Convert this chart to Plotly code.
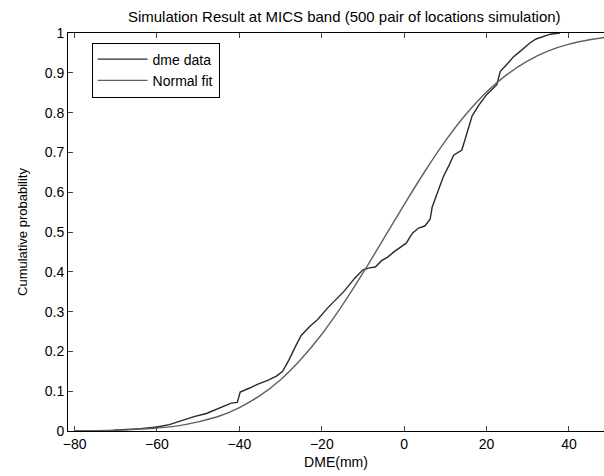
import plotly.graph_objects as go

dme_x = [-70.5, -67, -64, -60, -57, -54, -51, -48, -46, -44, -42, -40.5, -39.8, -37.5,
         -35.5, -33, -31, -29.5, -28, -26.5, -25, -23, -21, -18.5, -16.5, -14.5, -12,
         -10, -8.5, -7, -5.5, -4, -2.5, -1, 0.5, 2, 3.5, 5, 6.3, 6.8, 8.3, 9.5, 11, 12,
         14, 15.2, 16.5, 18, 20, 22.5, 23.3, 25, 26.5, 28.5, 30.5, 32, 33.5, 35.5, 37.8]
dme_y = [0.002, 0.004, 0.006, 0.01, 0.016, 0.026, 0.036, 0.044, 0.053, 0.062, 0.07, 0.072,
         0.098, 0.108, 0.118, 0.128, 0.138, 0.15, 0.178, 0.21, 0.24, 0.262, 0.28, 0.31,
         0.33, 0.352, 0.384, 0.405, 0.41, 0.412, 0.428, 0.437, 0.45, 0.46, 0.472, 0.497,
         0.51, 0.515, 0.532, 0.563, 0.605, 0.639, 0.67, 0.693, 0.706, 0.745, 0.792, 0.817,
         0.845, 0.87, 0.903, 0.922, 0.94, 0.957, 0.975, 0.985, 0.99, 0.997, 1.0]

# Normal fit curve
fit_x = [-80, -75, -70, -65, -60, -55, -50, -45, -40, -35, -30, -25, -20, -15, -10,
         -5, 0, 5, 10, 15, 20, 25, 30, 35, 40, 45, 50]
fit_y = [0.0005, 0.001, 0.002, 0.004, 0.0075, 0.013, 0.023, 0.037, 0.059, 0.089, 0.129,
         0.181, 0.243, 0.316, 0.397, 0.483, 0.569, 0.652, 0.729, 0.796, 0.852, 0.896,
         0.930, 0.955, 0.972, 0.983, 0.991]

x_ticks = [-80, -60, -40, -20, 0, 20, 40]
y_ticks = [0, 0.1, 0.2, 0.3, 0.4, 0.5, 0.6, 0.7, 0.8, 0.9, 1]
y_tick_labels = ["0", "0.1", "0.2", "0.3", "0.4", "0.5", "0.6", "0.7", "0.8", "0.9", "1"]

FONT = "Liberation Sans, Arial, sans-serif"

fig = go.Figure()
fig.add_trace(go.Scatter(x=dme_x, y=dme_y, mode="lines", name="dme data",
                         line=dict(color="#2a2a2a", width=1.4)))
fig.add_trace(go.Scatter(x=fit_x, y=fit_y, mode="lines", name="Normal fit",
                         line=dict(color="#606060", width=1.4, shape="spline")))

fig.update_layout(
    width=604, height=476,
    margin=dict(l=68, r=0, t=33, b=45),
    paper_bgcolor="white", plot_bgcolor="white",
    font=dict(family=FONT, size=13, color="black"),
    title=dict(text="Simulation Result at MICS band (500 pair of locations simulation)",
               x=0.57, xanchor="center", xref="container",
               y=1 - 17 / 476, yanchor="middle", yref="container",
               font=dict(family=FONT, size=15, color="black")),
    showlegend=True,
    legend=dict(x=0.044, y=0.976, xanchor="left", yanchor="top",
                bgcolor="white", bordercolor="black", borderwidth=1,
                font=dict(family=FONT, size=14, color="black"),
                tracegroupgap=0, itemwidth=50),
    xaxis=dict(range=[-81.6, 48.5], tickvals=x_ticks, ticks="inside", ticklen=5,
               showline=True, linecolor="black", linewidth=1, mirror="ticks",
               showgrid=False, zeroline=False,
               title=dict(text="DME(mm)", font=dict(family=FONT, size=14), standoff=6),
               tickfont=dict(family=FONT, size=14)),
    yaxis=dict(range=[0, 1], tickvals=y_ticks, ticktext=y_tick_labels, ticks="inside",
               ticklen=5, showline=True, linecolor="black", linewidth=1,
               showgrid=False, zeroline=False,
               title=dict(text="Cumulative probability", font=dict(family=FONT, size=13),
                          standoff=14),
               tickfont=dict(family=FONT, size=14)),
)

fig.write_html("out.html")
